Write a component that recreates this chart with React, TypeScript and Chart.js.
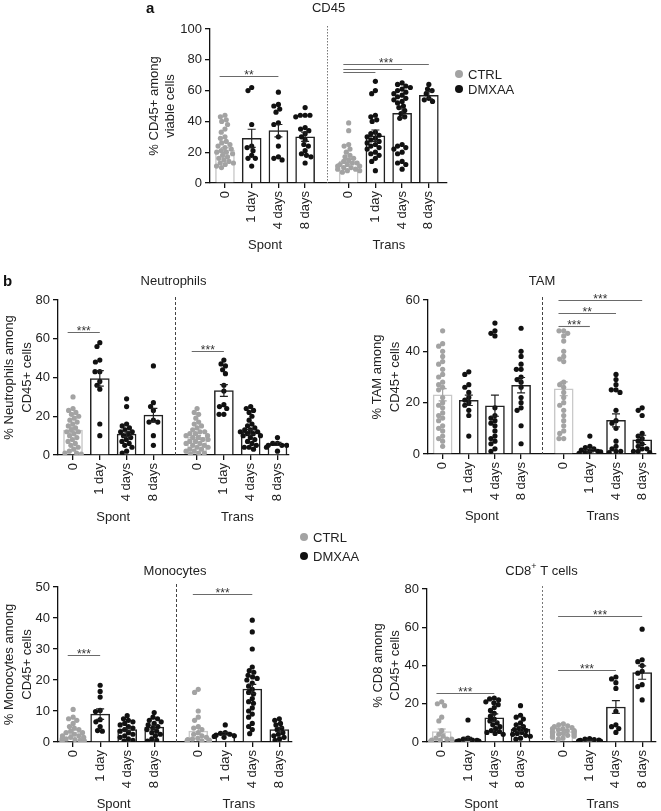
import React, { useEffect, useRef } from "react";
import { Chart, registerables } from "chart.js";
Chart.register(...registerables);

const FONT = "'Liberation Sans', Arial, Helvetica, sans-serif";
Chart.defaults.font.family = FONT;
Chart.defaults.color = "#222";

// ---------- shared categories ----------
const categories = ["0", "1 day", "4 days", "8 days"];
const groupNames = ["Spont", "Trans"];
const positions = [0, 1, 2, 3, 4.63, 5.63, 6.63, 7.63];
const ctrlGroups = [0, 4];

// ---------- CD45 ----------
const cd45Means = [21.4, 29, 34, 30, 14.3, 30.7, 45.2, 57];
const cd45Sems = [1.5, 5.9, 4, 3, 1, 3.7, 3, 2.3];
const cd45Dots = [
  [44, 43, 41, 40, 38, 35, 33, 30, 29, 27, 26, 25, 24, 23, 22, 21, 20, 20, 19, 18, 17, 16, 15, 14, 13, 13, 12, 11, 10],
  [62, 60, 38, 24, 23, 21, 18, 16, 16, 11],
  [59, 51, 50, 48, 46, 39, 38, 30, 24, 17, 16, 15],
  [49, 44, 44, 44, 43, 36, 35, 34, 32, 30, 28, 25, 24, 21, 19, 18, 17, 13],
  [39, 34, 25, 24, 22, 20, 18, 17, 16, 15, 14, 13, 13, 12, 12, 11, 11, 10, 10, 9, 9, 8, 8, 7],
  [66, 60, 58, 44, 43, 41, 40, 33, 32, 31, 30, 29, 28, 27, 26, 25, 24, 23, 22, 20, 19, 18, 16, 14, 8],
  [65, 64, 63, 62, 61, 60, 59, 58, 57, 56, 55, 54, 53, 52, 50, 49, 47, 45, 43, 42, 25, 24, 23, 22, 20, 19, 14, 13, 12, 9],
  [64, 61, 60, 58, 55, 54, 53],
];
const cd45Sig: [number, number, number, string][] = [
  [0, 2, 69.5, "**"],
  [4, 7, 77, "***"],
  [4, 6, 74, ""],
  [4, 5, 72, ""],
];

// ---------- Neutrophils ----------
const neuMeans = [12.9, 39.5, 10.8, 20.6, 9.1, 33.3, 11.9, 5.7];
const neuSems = [1.5, 4, 1.3, 3.5, 1, 3, 1.2, 0.8];
const neuDots = [
  [30, 24, 23, 22, 21, 20, 19, 18, 17, 16, 15, 14, 13, 12, 12, 11, 10, 9, 8, 7, 6, 5, 4, 3, 2, 1, 1, 0.5],
  [58, 56, 49, 48, 43, 43, 38, 36, 34, 16, 10],
  [29, 25, 16, 15, 14, 13, 12, 12, 11, 10, 9, 8, 7, 6, 5, 4, 2, 1],
  [46, 27, 25, 23, 18, 17, 17, 10, 5],
  [24, 22, 21, 19, 17, 16, 15, 14, 13, 12, 12, 11, 11, 10, 10, 9, 9, 8, 8, 7, 7, 6, 6, 5, 5, 4, 4, 3, 3, 2, 2, 1, 1, 0.5],
  [49, 47, 46, 44, 42, 36, 33, 26, 25, 24, 21, 21],
  [25, 24, 23, 22, 20, 18, 16, 15, 14, 13, 13, 12, 12, 11, 11, 10, 10, 9, 8, 7, 6, 5, 4, 4, 3],
  [9, 6, 6, 5, 5, 5, 4, 2],
];
const neuSig: [number, number, number, string][] = [
  [0, 1, 63.4, "***"],
  [4, 5, 53.6, "***"],
];

// ---------- TAM ----------
const tamMeans = [23.1, 20.9, 18.8, 26.8, 25.4, 1.3, 13.1, 5.5];
const tamSems = [2.4, 2, 4.1, 3, 2.7, 0.5, 2.5, 1.8];
const tamDots = [
  [48, 43, 42, 40, 38, 36, 35, 33, 31, 30, 28, 27, 26, 25, 22, 20, 19, 18, 16, 15, 14, 13, 11, 10, 9, 7, 6, 5, 3],
  [32, 31, 27, 26, 24, 22, 21, 20, 19, 17, 15, 7],
  [51, 48, 47, 46, 18, 15, 14, 13, 12, 11, 9, 7, 6, 5, 4, 2, 1],
  [49, 40, 38, 35, 33, 33, 30, 29, 28, 26, 22, 20, 18, 17, 11, 4],
  [48, 48, 47, 46, 44, 40, 38, 37, 36, 28, 27, 26, 24, 22, 20, 19, 17, 15, 13, 11, 9, 8, 6, 6],
  [7, 3, 2.5, 2, 1.5, 1, 1, 0.8, 0.5, 0.3, 0.2],
  [31, 29, 27, 25, 25, 24, 17, 13, 12, 10, 5, 3, 2, 1, 1, 0.5],
  [18, 17, 15, 8, 7, 6, 5, 4, 3, 2, 2, 1, 1, 0.5],
];
const tamSig: [number, number, number, string][] = [
  [4, 7, 60, "***"],
  [4, 6, 55, "**"],
  [4, 5, 50, "***"],
];

// ---------- Monocytes ----------
const monoMeans = [3.2, 9.0, 4.0, 4.8, 3.5, 2.7, 17.1, 4.0];
const monoSems = [0.7, 1.7, 0.5, 0.6, 1, 0.4, 1.5, 0.7];
const monoDots = [
  [10.5, 8, 7.5, 7, 6, 5, 4.5, 4, 3.5, 3, 3, 2.5, 2, 2, 1.5, 1.5, 1, 1, 0.8, 0.5, 0.5, 0.3, 0.2, 0.1],
  [18.3, 16.3, 14.5, 10.2, 9.8, 7.2, 6.5, 5, 3.7, 3.5],
  [8.5, 7.5, 7, 6.5, 6, 5.5, 5, 4.5, 4, 3.5, 3, 2.5, 2, 1.5, 1, 0.5, 0.3],
  [9.5, 8, 7.5, 7, 6.5, 6, 5.5, 5, 4.5, 4, 3.5, 3, 2.5, 2, 1, 0.5, 0.3],
  [17, 16, 10, 8, 7, 5, 4.5, 4, 3, 2.5, 2, 1.5, 1.2, 1, 0.8, 0.6, 0.5, 0.4, 0.3, 0.2, 0.1],
  [5.5, 3, 2.8, 2.5, 2.2, 2, 1.8, 1.5],
  [39.3, 35.5, 30, 24.2, 23, 22.5, 21.5, 21, 20.5, 20, 19, 18, 17, 16, 15.5, 14, 13, 12.5, 11, 10, 9, 8, 6, 5, 4, 2.7],
  [7.5, 7, 6, 5.5, 4.5, 4, 3, 2.5, 2, 1.5, 1, 0.5],
];
const monoSig: [number, number, number, string][] = [
  [0, 1, 28, "***"],
  [4, 6, 47.7, "***"],
];

// ---------- CD8 ----------
const cd8Means = [5.5, 1.6, 12.7, 6.8, 5.5, 0.8, 18.3, 36.3];
const cd8Sems = [1.3, 0.8, 2, 1.3, 0.6, 0.2, 3.3, 3.5];
const cd8Dots = [
  [21, 20, 19, 13, 11, 6, 4, 3, 2, 1.5, 1.5, 1, 1, 0.5, 0.5, 0.3, 0.2, 0.1],
  [11.5, 2, 1.5, 1, 0.8, 0.6, 0.5, 0.3, 0.2, 0.1],
  [23, 22.5, 22, 21, 20.5, 19.5, 18, 16.5, 15, 13.5, 12, 11, 10, 9, 8, 7, 6, 5.5, 5, 4.5, 4],
  [19, 14, 13, 12, 10, 9, 8, 7, 6.5, 6, 5, 4.5, 4, 3.5, 3, 2, 1.5],
  [9.5, 9, 8.5, 8, 7.5, 7, 7, 6.5, 6, 6, 5.5, 5.5, 5, 5, 4.5, 4.5, 4, 4, 3.5, 3, 3, 2.5, 2, 1.5],
  [1.8, 1.5, 1.2, 1, 0.8, 0.6, 0.5, 0.3, 0.2, 0.1],
  [34, 33, 31, 28, 16, 9, 8, 7, 5],
  [59, 43, 42, 40, 37, 36, 30, 29, 22],
];
const cd8Sig: [number, number, number, string][] = [
  [0, 2, 25.6, "***"],
  [4, 7, 66, "***"],
  [4, 6, 37.6, "***"],
];

// ---------- styling ----------
const CTRL_DOT = "#a3a3a3";
const DMX_DOT = "#111111";
const CTRL_BAR = "#c8c8c8";
const DMX_BAR = "#222222";
const W = 661;
const H = 811;
const X_MIN = -0.56;
const X_AXIS_H = 70;

type Panel = {
  title: [string, boolean][];
  yTitle: string[];
  yMax: number;
  yStep: number;
  means: number[];
  sems: number[];
  dots: number[][];
  sig: [number, number, number, string][];
  area: { l: number; t: number; r: number; b: number };
  xMax: number;
  titleY: number;
  yTitleLeft: number;
  yTitleLH: number;
  dash: number[];
  dashColor: string;
};

const panels: Panel[] = [
  {
    title: [["CD45", false]], yTitle: ["% CD45+ among", "viable cells"], yMax: 100, yStep: 20,
    means: cd45Means, sems: cd45Sems, dots: cd45Dots, sig: cd45Sig,
    area: { l: 210, t: 29, r: 447, b: 183 }, xMax: 8.31, titleY: 8, yTitleLeft: 147, yTitleLH: 15.5,
    dash: [1.5, 1.5], dashColor: "#777",
  },
  {
    title: [["Neutrophils", false]], yTitle: ["% Neutrophils among", "CD45+ cells"], yMax: 80, yStep: 20,
    means: neuMeans, sems: neuSems, dots: neuDots, sig: neuSig,
    area: { l: 58, t: 300, r: 289, b: 455 }, xMax: 8.06, titleY: 281, yTitleLeft: 0, yTitleLH: 18,
    dash: [3, 2], dashColor: "#444",
  },
  {
    title: [["TAM", false]], yTitle: ["% TAM among", "CD45+ cells"], yMax: 60, yStep: 20,
    means: tamMeans, sems: tamSems, dots: tamDots, sig: tamSig,
    area: { l: 428, t: 300, r: 660, b: 454 }, xMax: 8.16, titleY: 281, yTitleLeft: 368, yTitleLH: 18,
    dash: [3, 2], dashColor: "#444",
  },
  {
    title: [["Monocytes", false]], yTitle: ["% Monocytes among", "CD45+ cells"], yMax: 50, yStep: 10,
    means: monoMeans, sems: monoSems, dots: monoDots, sig: monoSig,
    area: { l: 58, t: 587, r: 292, b: 742 }, xMax: 8.1, titleY: 571, yTitleLeft: 0, yTitleLH: 18,
    dash: [3, 2], dashColor: "#444",
  },
  {
    title: [["CD8", false], ["+", true], [" T cells", false]], yTitle: ["% CD8 among", "CD45+ cells"], yMax: 80, yStep: 20,
    means: cd8Means, sems: cd8Sems, dots: cd8Dots, sig: cd8Sig,
    area: { l: 427, t: 589, r: 660, b: 742 }, xMax: 8.16, titleY: 571, yTitleLeft: 370, yTitleLH: 17,
    dash: [2, 2], dashColor: "#777",
  },
];

// deterministic beeswarm layout (pixel space) -> offsets in x-units
function swarmOffsets(vals: number[], pxPerY: number, pxPerX: number): number[] {
  const d = 4.8;
  const maxHalf = 11;
  const idx = vals.map((_, i) => i).sort((a, b) => vals[b] - vals[a]);
  const placed: { x: number; y: number }[] = [];
  const out = new Array(vals.length).fill(0);
  for (const i of idx) {
    const y = vals[i] * pxPerY;
    const near = placed.filter((p) => Math.abs(p.y - y) < d);
    const cands = [0];
    near.forEach((p) => {
      const dx = Math.sqrt(d * d - (p.y - y) ** 2);
      cands.push(p.x + dx, p.x - dx);
    });
    cands.sort((a, b) => Math.abs(a) - Math.abs(b) || a - b);
    let x = cands.find((c) => near.every((p) => (p.x - c) ** 2 + (p.y - y) ** 2 >= d * d - 1e-6));
    if (x === undefined) x = 0;
    x = Math.max(-maxHalf, Math.min(maxHalf, x));
    placed.push({ x, y });
    out[i] = x / pxPerX;
  }
  return out;
}

function overlayPlugin(p: Panel) {
  return {
    id: "overlay",
    beforeDatasetsDraw(chart: any) {
      const { ctx, chartArea: a } = chart;
      const xs = chart.scales.x.getPixelForValue((positions[3] + positions[4]) / 2);
      ctx.save();
      ctx.strokeStyle = p.dashColor;
      ctx.lineWidth = 1;
      ctx.setLineDash(p.dash);
      ctx.beginPath();
      ctx.moveTo(Math.round(xs) + 0.5, a.top - 3);
      ctx.lineTo(Math.round(xs) + 0.5, a.bottom);
      ctx.stroke();
      ctx.restore();
    },
    afterDatasetsDraw(chart: any) {
      const { ctx } = chart;
      const xS = chart.scales.x;
      const yS = chart.scales.y;
      ctx.save();
      // error bars
      p.means.forEach((m, i) => {
        const isCtrl = ctrlGroups.includes(i);
        const x = xS.getPixelForValue(positions[i]);
        const y1 = yS.getPixelForValue(m + p.sems[i]);
        const y2 = yS.getPixelForValue(Math.max(0, m - p.sems[i]));
        ctx.strokeStyle = isCtrl ? CTRL_DOT : DMX_BAR;
        ctx.lineWidth = 1.2;
        ctx.beginPath();
        ctx.moveTo(x, y1);
        ctx.lineTo(x, y2);
        ctx.moveTo(x - 4, y1);
        ctx.lineTo(x + 4, y1);
        ctx.moveTo(x - 4, y2);
        ctx.lineTo(x + 4, y2);
        ctx.stroke();
      });
      // significance lines
      p.sig.forEach(([from, to, val, label]) => {
        const x1 = xS.getPixelForValue(positions[from] - 0.2);
        const x2 = xS.getPixelForValue(positions[to]);
        const y = Math.round(yS.getPixelForValue(val)) + 0.5;
        ctx.strokeStyle = "#6a6a6a";
        ctx.lineWidth = 1.1;
        ctx.beginPath();
        ctx.moveTo(x1, y);
        ctx.lineTo(x2, y);
        ctx.stroke();
        if (label) {
          ctx.fillStyle = "#333";
          ctx.font = `12px ${FONT}`;
          ctx.textAlign = "center";
          ctx.textBaseline = "alphabetic";
          ctx.fillText(label, (x1 + x2) / 2, y + 2.5);
        }
      });
      ctx.restore();
    },
    afterDraw(chart: any) {
      const { ctx, chartArea: a } = chart;
      const xS = chart.scales.x;
      ctx.save();
      ctx.fillStyle = "#222";
      ctx.textBaseline = "middle";
      // title (supports superscript parts)
      const big = `13px ${FONT}`;
      const small = `9px ${FONT}`;
      let total = 0;
      p.title.forEach(([t, sup]) => {
        ctx.font = sup ? small : big;
        total += ctx.measureText(t).width;
      });
      let tx = (a.left + a.right) / 2 - total / 2;
      ctx.textAlign = "left";
      p.title.forEach(([t, sup]) => {
        ctx.font = sup ? small : big;
        ctx.fillText(t, tx, sup ? p.titleY - 4 : p.titleY);
        tx += ctx.measureText(t).width;
      });
      // group labels
      ctx.font = big;
      ctx.textAlign = "center";
      groupNames.forEach((g, gi) => {
        const c = (positions[gi * 4] + positions[gi * 4 + 3]) / 2;
        ctx.fillText(g, xS.getPixelForValue(c), a.bottom + 62);
      });
      ctx.restore();
    },
  };
}

function buildChart(canvas: HTMLCanvasElement, p: Panel) {
  const { l, t, r, b } = p.area;
  const pxY = (b - t) / p.yMax;
  const pxX = (r - l) / (p.xMax - X_MIN);
  const ctrlPts: { x: number; y: number }[] = [];
  const dmxPts: { x: number; y: number }[] = [];
  p.dots.forEach((vals, gi) => {
    const offs = swarmOffsets(vals, pxY, pxX);
    vals.forEach((v, k) => {
      (ctrlGroups.includes(gi) ? ctrlPts : dmxPts).push({ x: positions[gi] + offs[k], y: v });
    });
  });
  const yAxisWidth = l - p.yTitleLeft;
  const axisStyle = {
    grid: { display: true, drawOnChartArea: false, drawTicks: true, tickLength: 5, color: "#111", lineWidth: 1.3, offset: false },
    border: { display: true, color: "#111", width: 1.3 },
  };
  return new Chart(canvas, {
    type: "bar",
    data: {
      datasets: [
        { type: "scatter", data: ctrlPts, backgroundColor: CTRL_DOT, pointRadius: 2.6, borderWidth: 0, order: 2 } as any,
        { type: "scatter", data: dmxPts, backgroundColor: DMX_DOT, pointRadius: 2.6, borderWidth: 0, order: 1 } as any,
        {
          type: "bar",
          data: p.means.map((m, i) => ({ x: positions[i], y: m })),
          backgroundColor: "#ffffff",
          borderColor: p.means.map((_, i) => (ctrlGroups.includes(i) ? CTRL_BAR : DMX_BAR)),
          borderWidth: 1.5,
          barThickness: 19,
          order: 3,
        } as any,
      ],
    },
    options: {
      responsive: false,
      animation: false,
      events: [],
      layout: { padding: { left: p.yTitleLeft, top: t, right: W - r, bottom: H - b - X_AXIS_H } },
      plugins: { legend: { display: false }, tooltip: { enabled: false }, title: { display: false } },
      scales: {
        x: {
          type: "linear",
          min: X_MIN,
          max: p.xMax,
          offset: false,
          afterBuildTicks: (ax: any) => {
            ax.ticks = positions.map((v) => ({ value: v }));
          },
          afterFit: (ax: any) => {
            ax.height = X_AXIS_H;
          },
          ticks: {
            autoSkip: false,
            minRotation: 90,
            maxRotation: 90,
            padding: 3,
            color: "#222",
            font: { size: 13, family: FONT },
            callback: (_v: any, i: number) => categories[i % 4],
          },
          ...axisStyle,
        },
        y: {
          type: "linear",
          min: 0,
          max: p.yMax,
          afterFit: (ax: any) => {
            ax.width = yAxisWidth;
          },
          ticks: { stepSize: p.yStep, padding: 3, color: "#222", font: { size: 13, family: FONT } },
          title: {
            display: true,
            text: p.yTitle,
            color: "#222",
            padding: 0,
            font: { size: 13, family: FONT, lineHeight: p.yTitleLH / 13 },
          },
          ...axisStyle,
        },
      } as any,
    },
    plugins: [overlayPlugin(p)],
  } as any);
}

function PanelChart({ p }: { p: Panel }) {
  const ref = useRef<HTMLCanvasElement>(null);
  useEffect(() => {
    const chart = buildChart(ref.current as HTMLCanvasElement, p);
    return () => chart.destroy();
  }, []);
  return (
    <canvas
      ref={ref}
      width={W}
      height={H}
      style={{ position: "absolute", left: 0, top: 0, width: W, height: H }}
    />
  );
}

function LegendItem({ x, y, color, label }: { x: number; y: number; color: string; label: string }) {
  return (
    <div style={{ position: "absolute", left: x, top: y - 8, height: 16, display: "flex", alignItems: "center", font: `13px ${FONT}`, color: "#222", whiteSpace: "nowrap" }}>
      <span style={{ display: "inline-block", width: 8, height: 8, borderRadius: "50%", background: color, marginRight: 5 }} />
      {label}
    </div>
  );
}

export default function App() {
  return (
    <div style={{ position: "absolute", left: 0, top: 0, width: W, height: H, background: "#fff", overflow: "hidden" }}>
      {panels.map((p, i) => (
        <PanelChart key={i} p={p} />
      ))}
      <div style={{ position: "absolute", left: 146, top: 0, font: `bold 15px ${FONT}`, color: "#111", lineHeight: "16px" }}>a</div>
      <div style={{ position: "absolute", left: 3, top: 273, font: `bold 15px ${FONT}`, color: "#111", lineHeight: "16px" }}>b</div>
      <LegendItem x={455} y={74} color={CTRL_DOT} label="CTRL" />
      <LegendItem x={455} y={89} color={DMX_DOT} label="DMXAA" />
      <LegendItem x={300} y={537} color={CTRL_DOT} label="CTRL" />
      <LegendItem x={300} y={556} color={DMX_DOT} label="DMXAA" />
    </div>
  );
}
